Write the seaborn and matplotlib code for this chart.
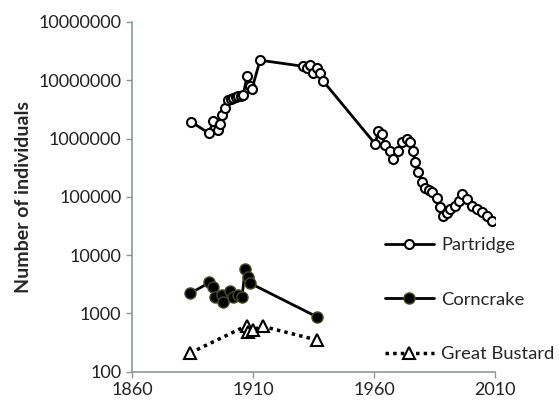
import numpy as np
import pandas as pd
import matplotlib
matplotlib.use("Agg")
import matplotlib.pyplot as plt
import seaborn as sns

# Data
partridge_year = [1884.3, 1891.8, 1893.5, 1895.5, 1896.4, 1897.2, 1898.4, 1899.7,
                  1900.7, 1901.7, 1902.8, 1903.8, 1904.9, 1905.9, 1907.5, 1908.8,
                  1909.6, 1912.9, 1930.7, 1932.2, 1933.6, 1934.8, 1936.4, 1937.7,
                  1939.0,
                  1960.4, 1961.7, 1963.3, 1964.5, 1966.6, 1967.9, 1970.0, 1971.6,
                  1973.6, 1974.9, 1976.1, 1977.0, 1978.2, 1979.8, 1981.1, 1982.6,
                  1984.0, 1986.0, 1987.3, 1988.5, 1990.0, 1991.4, 1993.5, 1995.0,
                  1996.4, 1998.4, 2000.5, 2002.6, 2004.6, 2006.7, 2008.8]
partridge_n = [1.95e6, 1.23e6, 2.0e6, 1.38e6, 1.8e6, 2.5e6, 3.3e6, 4.5e6,
               4.7e6, 4.9e6, 5.1e6, 5.3e6, 5.4e6, 5.5e6, 1.17e7, 8.1e6,
               7.2e6, 2.2e7, 1.73e7, 1.6e7, 1.8e7, 1.32e7, 1.6e7, 1.32e7,
               9.6e6,
               8.1e5, 1.32e6, 1.2e6, 7.6e5, 6.2e5, 4.5e5, 6.2e5, 8.8e5,
               1.0e6, 8.8e5, 6.0e5, 4.0e5, 2.7e5, 1.8e5, 1.4e5, 1.3e5,
               1.23e5, 9.4e4, 6.8e4, 4.6e4, 5.2e4, 6.1e4, 7.0e4, 8.5e4,
               1.12e5, 9.3e4, 7.0e4, 6.2e4, 5.5e4, 4.6e4, 3.9e4]

corncrake_year = [1884, 1892, 1893.5, 1894.3, 1897, 1897.6, 1900.5, 1901.7, 1903.8,
                  1905.5, 1906.7, 1908, 1908.8, 1936.5]
corncrake_n = [2200, 3400, 2800, 1900, 2100, 1600, 2400, 1900, 2100,
               1950, 5700, 4200, 3300, 870]

bustard_year = [1884, 1907.5, 1908, 1910, 1914, 1936.5]
bustard_n = [210, 620, 490, 530, 600, 350]

ytick_vals = [1e2, 1e3, 1e4, 1e5, 1e6, 1e7, 1e8]
ytick_labels = ["100", "1000", "10000", "100000", "1000000", "10000000", "10000000"]
xtick_vals = [1860, 1910, 1960, 2010]

sns.set_style("ticks")
plt.rcParams["font.family"] = ["Lato", "DejaVu Sans"]

fig = plt.figure(figsize=(5.59, 4.05), dpi=100)
ax = fig.add_axes([0.236, 0.082, 0.65, 0.864])

sns.lineplot(x=partridge_year, y=partridge_n, ax=ax, sort=False, estimator=None,
             color="black", linewidth=2, marker="o", markersize=6.5,
             markerfacecolor="white", markeredgecolor="black", markeredgewidth=1.5,
             label="Partridge")
sns.lineplot(x=corncrake_year, y=corncrake_n, ax=ax, sort=False, estimator=None,
             color="black", linewidth=2, marker="o", markersize=8,
             markerfacecolor="black", markeredgecolor="#4a4a22", markeredgewidth=1,
             label="Corncrake")
sns.lineplot(x=bustard_year, y=bustard_n, ax=ax, sort=False, estimator=None,
             color="black", linewidth=2.5, linestyle=(0, (1, 1.2)), marker="^",
             markersize=8.5, markerfacecolor="white", markeredgecolor="black",
             markeredgewidth=1.5, label="Great Bustard")

ax.set_yscale("log")
ax.set_ylim(100, 1e8)
ax.set_xlim(1860, 2010)
ax.set_yticks(ytick_vals)
ax.set_yticklabels(ytick_labels)
ax.yaxis.set_minor_locator(matplotlib.ticker.NullLocator())
ax.set_xticks(xtick_vals)
ax.tick_params(labelsize=13, colors="#222222", length=4, width=1)
ax.tick_params(axis="both", color="#8a9a9a")
for s in ["left", "bottom"]:
    ax.spines[s].set_color("#8a9a9a")
    ax.spines[s].set_linewidth(1.2)
sns.despine(ax=ax)
ax.set_ylabel("Number of individuals", fontsize=14, fontweight="bold", labelpad=5)

ax.legend(loc="upper left", bbox_to_anchor=(0.675, 0.432), bbox_transform=fig.transFigure,
          frameon=False, fontsize=13.2, handlelength=2.7, handletextpad=0.4,
          labelspacing=2.1, borderaxespad=0)

fig.savefig("out.png", dpi=100)
